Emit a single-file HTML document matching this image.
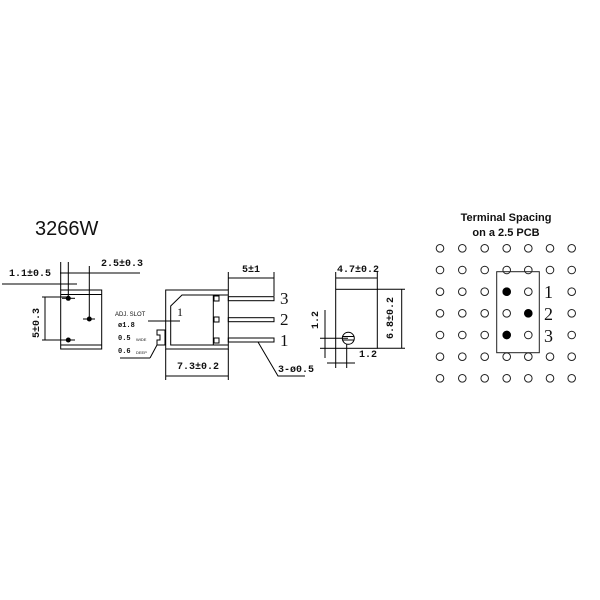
<!DOCTYPE html>
<html><head><meta charset="utf-8"><style>body{margin:0;background:#fff}svg{display:block}</style></head>
<body>
<svg width="600" height="600" viewBox="0 0 600 600" xmlns="http://www.w3.org/2000/svg" font-family="Liberation Sans, sans-serif">
<defs>
<g id="row" stroke="#222" stroke-width="1" fill="#fff"><circle cx="440" cy="0" r="3.8"/><circle cx="462.3" cy="0" r="3.8"/><circle cx="484.7" cy="0" r="3.8"/><circle cx="506.7" cy="0" r="3.8"/><circle cx="528.3" cy="0" r="3.8"/><circle cx="550" cy="0" r="3.8"/><circle cx="571.7" cy="0" r="3.8"/></g>
</defs>
<rect width="600" height="600" fill="#fff"/>
<text x="35" y="235" font-size="20" fill="#111">3266W</text>
<g stroke="#000" stroke-width="1" fill="none">
<rect x="60.7" y="290" width="41" height="59"/>
<line x1="60.7" y1="294.5" x2="101.7" y2="294.5"/>
<line x1="60.7" y1="345" x2="101.7" y2="345"/>
<line x1="2" y1="284" x2="77" y2="284"/>
<line x1="60.7" y1="262" x2="60.7" y2="290"/>
<line x1="68.3" y1="262" x2="68.3" y2="298"/>
<line x1="60" y1="273" x2="140" y2="273"/>
<line x1="89.3" y1="266" x2="89.3" y2="319"/>
<line x1="83" y1="319" x2="95" y2="319"/>
<line x1="62" y1="298.3" x2="75" y2="298.3"/>
<line x1="62" y1="340" x2="75" y2="340"/>
<line x1="45" y1="297" x2="45" y2="340"/>
<line x1="42" y1="297" x2="68" y2="297"/>
<line x1="42" y1="340" x2="68" y2="340"/>
<rect x="165.7" y="290" width="62.6" height="59"/>
<path d="M170.7 306 L182 295 L213.3 295 L213.3 345 L170.7 345 Z"/>
<line x1="213.3" y1="295" x2="228.3" y2="295"/>
<line x1="213.3" y1="345" x2="228.3" y2="345"/>
<rect x="214" y="296" width="5" height="5"/>
<rect x="214" y="317" width="5" height="5"/>
<rect x="214" y="338" width="5" height="5"/>
<rect x="228.3" y="296.7" width="45.7" height="4"/>
<rect x="228.3" y="317.7" width="45.7" height="4"/>
<rect x="228.3" y="338" width="45.7" height="4"/>
<line x1="228.3" y1="278" x2="274" y2="278"/>
<line x1="228.3" y1="272" x2="228.3" y2="290"/>
<line x1="274" y1="272" x2="274" y2="296"/>
<line x1="165.7" y1="376" x2="228.3" y2="376"/>
<line x1="165.7" y1="349" x2="165.7" y2="380"/>
<line x1="228.3" y1="349" x2="228.3" y2="380"/>
<polyline points="258,342 278,376 305,376"/>
<line x1="148" y1="321" x2="180" y2="321"/>
<path d="M157 330 L165 330 L165 345 L157 345 L157 340 L160 340 L160 335 L157 335 Z"/>
<line x1="157" y1="345" x2="150" y2="358"/>
<line x1="150" y1="358" x2="120" y2="358"/>
<rect x="335.7" y="289.3" width="41.6" height="59"/>
<circle cx="348.3" cy="338.3" r="6"/>
<line x1="342.3" y1="336.5" x2="354.3" y2="336.5"/>
<line x1="342.3" y1="340" x2="354.3" y2="340"/>
<line x1="335.7" y1="278" x2="377.3" y2="278"/>
<line x1="335.7" y1="272" x2="335.7" y2="289"/>
<line x1="377.3" y1="272" x2="377.3" y2="289"/>
<line x1="377.3" y1="289.3" x2="405" y2="289.3"/>
<line x1="377.3" y1="348.3" x2="405" y2="348.3"/>
<line x1="401.7" y1="289.3" x2="401.7" y2="348.3"/>
<line x1="325" y1="310" x2="325" y2="358"/>
<line x1="320" y1="338.3" x2="348" y2="338.3"/>
<line x1="320" y1="348.3" x2="336" y2="348.3"/>
<line x1="335.7" y1="348" x2="335.7" y2="368"/>
<line x1="346.7" y1="344" x2="346.7" y2="368"/>
<line x1="327" y1="363" x2="355" y2="363"/>
</g>
<g fill="#000">
<circle cx="68.3" cy="298.3" r="2.5"/><circle cx="89.3" cy="319" r="2.5"/><circle cx="68.3" cy="340" r="2.5"/>
</g>
<g font-family="Liberation Mono, monospace" font-weight="bold" font-size="10" fill="#111">
<text x="9" y="276">1.1±0.5</text>
<text x="101" y="266">2.5±0.3</text>
<text transform="translate(39,323) rotate(-90)" text-anchor="middle">5±0.3</text>
<text x="242" y="272">5±1</text>
<text x="177" y="369">7.3±0.2</text>
<text x="278" y="372">3-ø0.5</text>
<text x="337" y="272">4.7±0.2</text>
<text transform="translate(393,318) rotate(-90)" text-anchor="middle">6.8±0.2</text>
<text transform="translate(318,320) rotate(-90)" text-anchor="middle">1.2</text>
<text x="359" y="357">1.2</text>
<text x="118" y="327" font-size="7">ø1.8</text>
<text x="118" y="340" font-size="7">0.5</text>
<text x="118" y="353" font-size="7">0.6</text>
</g>
<text x="115" y="316" font-size="6" fill="#111">ADJ. SLOT</text>
<text x="136" y="341" font-size="4" fill="#111">WIDE</text>
<text x="136" y="354" font-size="4" fill="#111">DEEP</text>
<g font-family="Liberation Serif, serif" font-size="17" fill="#111">
<text x="280" y="304">3</text><text x="280" y="325">2</text><text x="280" y="346">1</text>
<text x="177" y="316" font-size="12">1</text>
</g>
<text x="506" y="221" font-size="11" font-weight="bold" text-anchor="middle" fill="#111">Terminal Spacing</text>
<text x="506" y="236" font-size="11" font-weight="bold" text-anchor="middle" fill="#111">on a 2.5 PCB</text>
<use href="#row" y="248.3"/><use href="#row" y="270"/><use href="#row" y="291.7"/><use href="#row" y="313.3"/><use href="#row" y="335"/><use href="#row" y="356.7"/><use href="#row" y="378.3"/>
<rect x="496.7" y="271.7" width="42.6" height="81" fill="none" stroke="#222" stroke-width="1"/>
<rect x="545" y="286" width="10" height="56" fill="#fff"/>
<g fill="#000"><circle cx="506.7" cy="291.7" r="4.2"/><circle cx="528.3" cy="313.3" r="4.2"/><circle cx="506.7" cy="335" r="4.2"/></g>
<g font-family="Liberation Serif, serif" font-size="18" fill="#111">
<text x="544" y="298">1</text><text x="544" y="320">2</text><text x="544" y="342">3</text>
</g>
</svg>
</body></html>
